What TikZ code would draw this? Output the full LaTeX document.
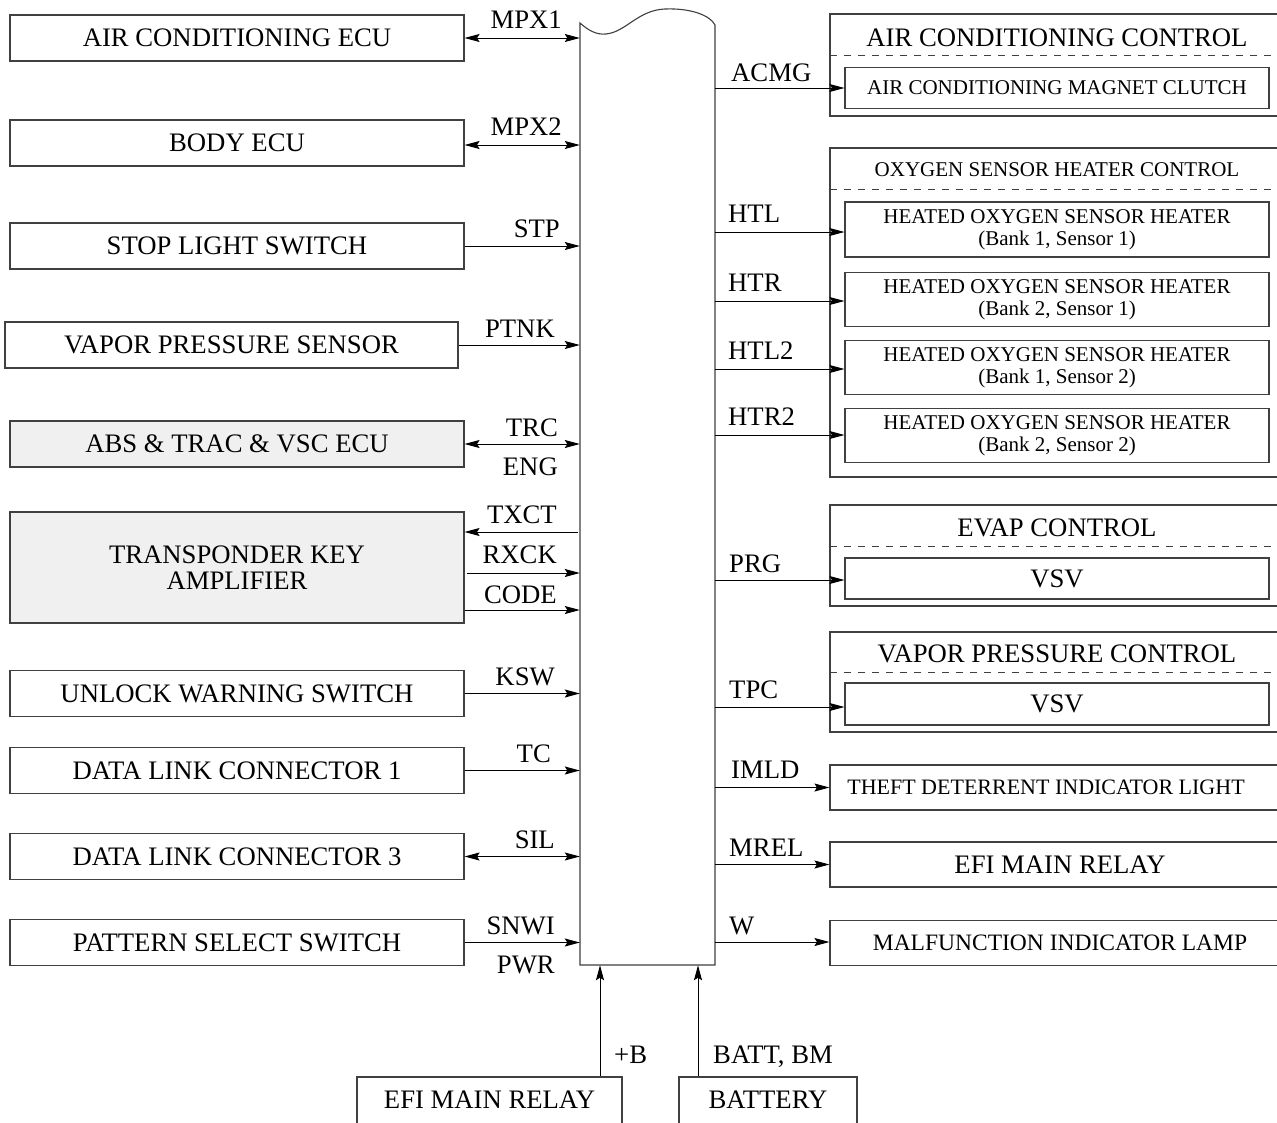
\documentclass[tikz,border=0pt]{standalone}
\usepackage{fontspec}
\setmainfont{Liberation Serif}
\usetikzlibrary{arrows.meta}
\newcommand{\fbig}{\fontsize{26.7}{26}\selectfont}
\newcommand{\fsmall}{\fontsize{21}{22}\selectfont}
\tikzset{
  box/.style={draw=black!75, line width=1.1pt, rectangle, inner sep=0pt, font=\fbig, align=center},
  gbox/.style={box, fill=black!6},
  sbox/.style={box, font=\fsmall},
  grp/.style={draw=black!75, line width=1.1pt, rectangle, inner sep=0pt},
  tip/.tip={Stealth[length=15pt,width=8pt,inset=2.5pt]},
  sig/.style={-tip, line width=1pt, draw=black},
  bsig/.style={tip-tip, line width=1pt, draw=black},
  rsig/.style={tip-, line width=1pt, draw=black},
  lab/.style={font=\fbig, inner sep=0pt},
  dsh/.style={draw=black!75, line width=1pt, dash pattern=on 7pt off 7pt},
}
\begin{document}
\begin{tikzpicture}[x=1pt,y=-1pt]
\useasboundingbox (0,0) rectangle (1277,1122);
\clip (0,0) rectangle (1277,1122);
\fill[white] (0,0) rectangle (1277,1122);

% central ECM bus
\node[minimum width=135, minimum height=942, inner sep=0pt] (ecm) at (647.5,494) {};
\draw[draw=black!75, line width=1.1pt] (580,965) -- (580,23)
  .. controls (588,30) and (596,35) .. (606,34)
  .. controls (626,32) and (638,10) .. (665,9)
  .. controls (690,8) and (710,15) .. (715,25)
  -- (715,965) -- cycle;

% left boxes
\node[box, minimum width=454, minimum height=46] (acecu) at (237,38) {AIR CONDITIONING ECU};
\node[box, minimum width=454, minimum height=46] (body) at (237,143) {BODY ECU};
\node[box, minimum width=454, minimum height=46] (stop) at (237,246) {STOP LIGHT SWITCH};
\node[box, minimum width=453, minimum height=46] (vps) at (231.5,345) {VAPOR PRESSURE SENSOR};
\node[gbox, minimum width=454, minimum height=46] (abs) at (237,444) {ABS \& TRAC \& VSC ECU};
\node[gbox, minimum width=454, minimum height=111] (tka) at (237,567.5) {TRANSPONDER KEY\\AMPLIFIER};
\node[box, minimum width=454, minimum height=46] (unlock) at (237,693.5) {UNLOCK WARNING SWITCH};
\node[box, minimum width=454, minimum height=46] (dlc1) at (237,770.5) {DATA LINK CONNECTOR 1};
\node[box, minimum width=454, minimum height=46] (dlc3) at (237,856.5) {DATA LINK CONNECTOR 3};
\node[box, minimum width=454, minimum height=46] (pss) at (237,942.5) {PATTERN SELECT SWITCH};

% left connectors
\draw[bsig] (acecu.east) -- (acecu.east -| ecm.west);
\draw[bsig] (body.east |- 0,145) -- (ecm.west |- 0,145);
\draw[sig] (stop.east) -- (stop.east -| ecm.west);
\draw[sig] (vps.east) -- (vps.east -| ecm.west);
\draw[bsig] (abs.east) -- (abs.east -| ecm.west);
\draw[rsig] (tka.east |- 0,532) -- ([xshift=-2pt]ecm.west |- 0,532);
\draw[sig] ([xshift=2pt]tka.east |- 0,573) -- (ecm.west |- 0,573);
\draw[sig] (tka.east |- 0,610) -- (ecm.west |- 0,610);
\draw[sig] (unlock.east) -- (unlock.east -| ecm.west);
\draw[sig] (dlc1.east) -- (dlc1.east -| ecm.west);
\draw[bsig] (dlc3.east) -- (dlc3.east -| ecm.west);
\draw[sig] (pss.east) -- (pss.east -| ecm.west);

% left labels
\node[lab, anchor=base east] (lmpx1) at (562,28) {MPX1};
\node[lab, anchor=base east] (lmpx2) at (562,135) {MPX2};
\node[lab, anchor=base east] (lstp) at (560,237) {STP};
\node[lab, anchor=base east] (lptnk) at (555,337) {PTNK};
\node[lab, anchor=base east] (ltrc) at (558,436) {TRC};
\node[lab, anchor=base east] (leng) at (558,475) {ENG};
\node[lab, anchor=base east] (ltxct) at (557,523) {TXCT};
\node[lab, anchor=base east] (lrxck) at (557,563) {RXCK};
\node[lab, anchor=base east] (lcode) at (557,603) {CODE};
\node[lab, anchor=base east] (lksw) at (555,685) {KSW};
\node[lab, anchor=base east] (ltc) at (551,762) {TC};
\node[lab, anchor=base east] (lsil) at (555,848) {SIL};
\node[lab, anchor=base east] (lsnwi) at (555,934) {SNWI};
\node[lab, anchor=base east] (lpwr) at (555,973) {PWR};

% right groups
\node[grp, minimum width=460, minimum height=102] (acg) at (1060,65) {};
\node[grp, minimum width=460, minimum height=329] (oxg) at (1060,312.5) {};
\node[grp, minimum width=460, minimum height=101] (evg) at (1060,555.5) {};
\node[grp, minimum width=460, minimum height=100] (vpg) at (1060,682) {};
\draw[dsh] (830,55) -- (1277,55);
\draw[dsh] (830,189) -- (1277,189);
\draw[dsh] (830,546) -- (1277,546);
\draw[dsh] (830,672) -- (1277,672);
\node[lab, anchor=base] (tacg) at (1057,46) {AIR CONDITIONING CONTROL};
\node[lab, anchor=base, font=\fsmall] (toxg) at (1057,176) {OXYGEN SENSOR HEATER CONTROL};
\node[lab, anchor=base] (tevg) at (1057,536) {EVAP CONTROL};
\node[lab, anchor=base] (tvpg) at (1057,662) {VAPOR PRESSURE CONTROL};

% right inner boxes
\node[sbox, minimum width=424, minimum height=41] (acc) at (1057,88) {AIR CONDITIONING MAGNET CLUTCH};
\node[sbox, minimum width=424, minimum height=55] (h1) at (1057,229.5) {HEATED OXYGEN SENSOR HEATER\\(Bank 1, Sensor 1)};
\node[sbox, minimum width=424, minimum height=54] (h2) at (1057,299.5) {HEATED OXYGEN SENSOR HEATER\\(Bank 2, Sensor 1)};
\node[sbox, minimum width=424, minimum height=54] (h3) at (1057,367.5) {HEATED OXYGEN SENSOR HEATER\\(Bank 1, Sensor 2)};
\node[sbox, minimum width=424, minimum height=54] (h4) at (1057,435.5) {HEATED OXYGEN SENSOR HEATER\\(Bank 2, Sensor 2)};
\node[box, minimum width=424, minimum height=41] (vsv1) at (1057,578.5) {VSV};
\node[box, minimum width=424, minimum height=42] (vsv2) at (1057,704) {VSV};
\node[box, minimum width=460, minimum height=45, font=\fontsize{22}{24}\selectfont] (theft) at (1060,787.5) {\hspace*{-28pt}THEFT DETERRENT INDICATOR LIGHT};
\node[box, minimum width=460, minimum height=45] (efi) at (1060,864.5) {EFI MAIN RELAY};
\node[box, minimum width=460, minimum height=45, font=\fontsize{23.5}{25}\selectfont] (mil) at (1060,943) {MALFUNCTION INDICATOR LAMP};

% right connectors
\draw[sig] (ecm.east |- acc.west) -- (acc.west);
\draw[sig] (ecm.east |- 0,232) -- (h1.west |- 0,232);
\draw[sig] (ecm.east |- 0,301) -- (h2.west |- 0,301);
\draw[sig] (ecm.east |- 0,369) -- (h3.west |- 0,369);
\draw[sig] (ecm.east |- 0,435) -- (h4.west |- 0,435);
\draw[sig] (ecm.east |- 0,580) -- (vsv1.west |- 0,580);
\draw[sig] (ecm.east |- 0,707) -- (vsv2.west |- 0,707);
\draw[sig] (ecm.east |- theft.west) -- (theft.west);
\draw[sig] (ecm.east |- efi.west) -- (efi.west);
\draw[sig] (ecm.east |- 0,942) -- (mil.west |- 0,942);

% right labels
\node[lab, anchor=base west] (racmg) at (731,81) {ACMG};
\node[lab, anchor=base west] (rhtl) at (728,222) {HTL};
\node[lab, anchor=base west] (rhtr) at (728,291) {HTR};
\node[lab, anchor=base west] (rhtl2) at (728,359) {HTL2};
\node[lab, anchor=base west] (rhtr2) at (728,425) {HTR2};
\node[lab, anchor=base west] (rprg) at (729,572) {PRG};
\node[lab, anchor=base west] (rtpc) at (729,698) {TPC};
\node[lab, anchor=base west] (rimld) at (731,778) {IMLD};
\node[lab, anchor=base west] (rmrel) at (729,856) {MREL};
\node[lab, anchor=base west] (rw) at (729,934) {W};

% bottom boxes (open at the bottom edge)
\node[box, minimum width=265, minimum height=60] (efib) at (489.5,1107) {\raisebox{14pt}{EFI MAIN RELAY}};
\node[box, minimum width=178, minimum height=60] (batt) at (768,1107) {\raisebox{14pt}{BATTERY}};
\draw[sig] ([xshift=110.5pt]efib.north) -- ([xshift=110.5pt]efib.north |- ecm.south);
\draw[sig] ([xshift=-70pt]batt.north) -- ([xshift=-70pt]batt.north |- ecm.south);
\node[lab, anchor=base west] (lpb) at (614,1063) {+B};
\node[lab, anchor=base west] (lbatt) at (713,1063) {BATT, BM};
\end{tikzpicture}
\end{document}
